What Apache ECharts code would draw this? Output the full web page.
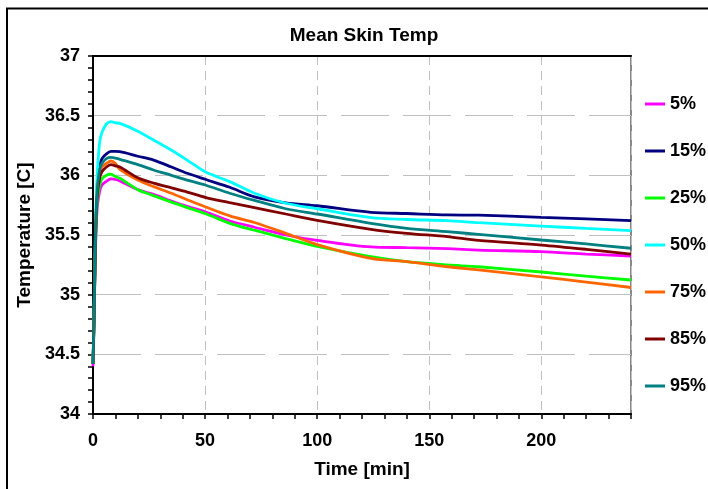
<!DOCTYPE html>
<html>
<head>
<meta charset="utf-8">
<script src="https://cdn.jsdelivr.net/npm/echarts@6/dist/echarts.min.js"></script>
<style>
html,body{margin:0;padding:0;background:#fff;}
#chart{width:708px;height:489px;}
</style>
</head>
<body>
<div id="chart"></div>
<script>
var times = [0, 0.5, 1, 1.5, 2, 3, 4, 6, 8, 10, 12, 20, 27, 35, 42, 50, 61, 72, 86, 100, 124, 140, 158, 172, 200, 220, 240];
var seriesNames = ['5%', '15%', '25%', '50%', '75%', '85%', '95%'];
var s5  = [34.40, 34.80, 35.30, 35.60, 35.75, 35.87, 35.92, 35.95, 35.97, 35.965, 35.952, 35.88, 35.84, 35.785, 35.74, 35.695, 35.617, 35.565, 35.50, 35.455, 35.40, 35.394, 35.386, 35.374, 35.36, 35.34, 35.324];
var s15 = [34.42, 34.85, 35.40, 35.75, 35.95, 36.08, 36.14, 36.18, 36.20, 36.20, 36.198, 36.16, 36.128, 36.07, 36.017, 35.967, 35.90, 35.82, 35.77, 35.745, 35.69, 35.68, 35.668, 35.666, 35.648, 35.635, 35.62];
var s25 = [34.42, 34.80, 35.32, 35.65, 35.80, 35.92, 35.97, 36.00, 36.01, 35.99, 35.975, 35.88, 35.83, 35.775, 35.73, 35.68, 35.598, 35.54, 35.47, 35.405, 35.318, 35.276, 35.249, 35.234, 35.19, 35.155, 35.123];
var s50 = [34.42, 34.90, 35.45, 35.85, 36.05, 36.28, 36.36, 36.43, 36.45, 36.44, 36.435, 36.37, 36.296, 36.21, 36.128, 36.03, 35.947, 35.85, 35.766, 35.72, 35.645, 35.63, 35.62, 35.603, 35.575, 35.555, 35.536];
var s75 = [34.42, 34.82, 35.36, 35.72, 35.90, 36.02, 36.07, 36.10, 36.12, 36.10, 36.05, 35.96, 35.905, 35.85, 35.795, 35.737, 35.66, 35.605, 35.514, 35.42, 35.305, 35.276, 35.234, 35.207, 35.15, 35.105, 35.06];
var s85 = [34.42, 34.82, 35.35, 35.70, 35.85, 35.98, 36.03, 36.07, 36.09, 36.08, 36.07, 35.98, 35.935, 35.895, 35.86, 35.816, 35.771, 35.73, 35.676, 35.623, 35.548, 35.514, 35.486, 35.455, 35.416, 35.38, 35.34];
var s95 = [34.42, 34.84, 35.38, 35.72, 35.90, 36.05, 36.10, 36.14, 36.15, 36.145, 36.134, 36.09, 36.045, 36.00, 35.96, 35.919, 35.85, 35.79, 35.72, 35.676, 35.598, 35.556, 35.528, 35.505, 35.458, 35.425, 35.389];
var colors = ['#FF00FF', '#000080', '#00FF00', '#00FFFF', '#FF6600', '#800000', '#008080'];
var xTicks = [0, 50, 100, 150, 200];
var yTicks = [34, 34.5, 35, 35.5, 36, 36.5, 37];

var allValues = [s5, s15, s25, s50, s75, s85, s95];
var FONT = "'Liberation Sans', Arial, sans-serif";

function pairs(vals) {
  return times.map(function (t, i) { return [t, vals[i]]; });
}

var series = seriesNames.map(function (name, k) {
  return {
    name: name,
    type: 'line',
    data: pairs(allValues[k]),
    showSymbol: false,
    symbol: 'none',
    smooth: 0.3,
    lineStyle: { color: colors[k], width: 2.8 },
    itemStyle: { color: colors[k] },
    z: 3 + k
  };
});

var chart = echarts.init(document.getElementById('chart'), null, { renderer: 'canvas' });
chart.setOption({
  animation: false,
  backgroundColor: '#fff',
  title: {
    text: 'Mean Skin Temp',
    left: 359,
    top: 21,
    textAlign: 'center',
    textStyle: { fontFamily: FONT, fontWeight: 'bold', fontSize: 19, color: '#000' }
  },
  graphic: [{
    type: 'rect',
    shape: { x: 7, y: 8.5, width: 720, height: 500 },
    style: { fill: 'none', stroke: '#000', lineWidth: 2 },
    silent: true
  }],
  grid: {
    left: 93, right: 77, top: 56, bottom: 75,
    show: true, borderColor: '#888', borderWidth: 2, backgroundColor: 'transparent'
  },
  legend: {
    orient: 'vertical',
    left: 640,
    top: 89,
    itemWidth: 20,
    itemHeight: 3,
    itemGap: 27,
    icon: 'rect',
    data: seriesNames,
    textStyle: { fontFamily: FONT, fontWeight: 'bold', fontSize: 18, color: '#000', lineHeight: 20 }
  },
  xAxis: [{
    type: 'value',
    min: 0, max: 240, interval: 50,
    name: 'Time [min]',
    nameLocation: 'middle',
    nameGap: 46,
    nameTextStyle: { fontFamily: FONT, fontWeight: 'bold', fontSize: 19, color: '#000' },
    axisLine: { show: true, onZero: false, lineStyle: { color: '#000', width: 2 } },
    axisTick: { show: true, inside: false, length: 5, lineStyle: { color: '#000', width: 1.5 } },
    minorTick: { show: true, splitNumber: 5, length: 5, lineStyle: { color: '#000', width: 1.5 } },
    axisLabel: {
      fontFamily: FONT, fontWeight: 'bold', fontSize: 18, color: '#000', margin: 18,
      showMaxLabel: false,
      formatter: function (v) { return xTicks.indexOf(v) >= 0 ? String(v) : ''; }
    },
    splitLine: { show: true, lineStyle: { color: '#c0c0c0', width: 1, type: [9, 6] } }
  }, {
    type: 'value',
    position: 'top',
    min: 0, max: 240, interval: 50,
    axisLine: { show: true, onZero: false, lineStyle: { color: '#000', width: 2 } },
    axisTick: { show: false },
    axisLabel: { show: false },
    splitLine: { show: false }
  }],
  yAxis: {
    type: 'value',
    min: 34, max: 37, interval: 0.5,
    name: 'Temperature [C]',
    nameLocation: 'middle',
    nameGap: 50,
    nameRotate: 90,
    nameTextStyle: { fontFamily: FONT, fontWeight: 'bold', fontSize: 19, color: '#000' },
    axisLine: { show: true, onZero: false, lineStyle: { color: '#000', width: 2 } },
    axisTick: { show: true, inside: false, length: 5, lineStyle: { color: '#000', width: 1.5 } },
    minorTick: { show: true, splitNumber: 5, length: 5, lineStyle: { color: '#000', width: 1.5 } },
    axisLabel: {
      fontFamily: FONT, fontWeight: 'bold', fontSize: 18, color: '#000', margin: 13,
      formatter: function (v) {
        for (var i = 0; i < yTicks.length; i++) { if (Math.abs(yTicks[i] - v) < 1e-6) return String(yTicks[i]); }
        return '';
      }
    },
    splitLine: { show: true, lineStyle: { color: '#c0c0c0', width: 1, type: [48, 14] } }
  },
  series: series
});
</script>
</body>
</html>
